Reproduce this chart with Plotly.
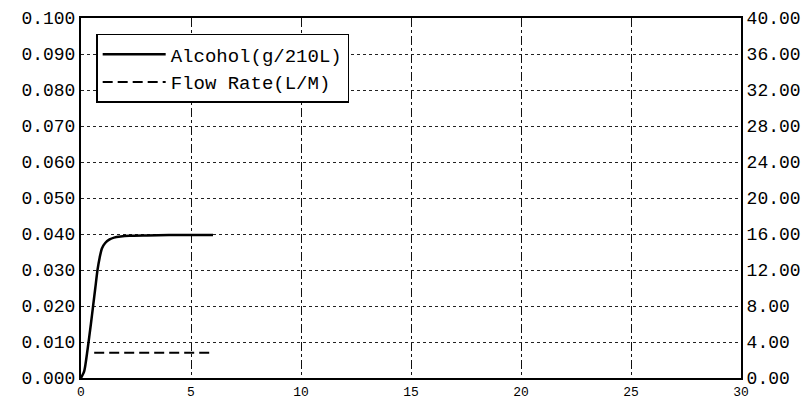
import plotly.graph_objects as go

# ---- data ----
time_alcohol = [0.0, 0.15, 0.3, 0.45, 0.55, 0.65, 0.75, 0.85, 0.95, 1.1, 1.3, 1.5, 1.8, 2.2, 3.0, 4.0, 5.0, 6.0]
alcohol = [0.0, 0.002, 0.008, 0.015, 0.020, 0.025, 0.030, 0.0335, 0.0360, 0.0375, 0.0385, 0.0390,
           0.0393, 0.0395, 0.0396, 0.0397, 0.0397, 0.0397]
time_flow = [0.6, 6.0]
flow_rate = [2.8, 2.8]

series_names = ["Alcohol(g/210L)", "Flow Rate(L/M)"]
x_ticks = [0, 5, 10, 15, 20, 25, 30]

FONT = "Liberation Mono"

fig = go.Figure()
fig.add_trace(go.Scatter(x=time_alcohol, y=alcohol, mode="lines", name=series_names[0],
                         line=dict(color="black", width=2.5, shape="spline", smoothing=0.6), yaxis="y"))
fig.add_trace(go.Scatter(x=time_flow, y=flow_rate, mode="lines", name=series_names[1],
                         line=dict(color="black", width=2, dash="10px,5px"), yaxis="y2"))

# the page body adds an 8px offset, so the figure is sized to fit 811x400 with it
fig.update_layout(
    width=803, height=392,
    margin=dict(l=73, r=70, t=10, b=22),
    paper_bgcolor="white", plot_bgcolor="white",
    font=dict(family=FONT, size=18, color="black"),
    showlegend=True,
    legend=dict(x=0.023, y=0.956, xanchor="left", yanchor="top",
                bgcolor="white", bordercolor="black", borderwidth=1.5,
                font=dict(family=FONT, size=19, color="black"),
                itemwidth=63, tracegroupgap=0),
    xaxis=dict(range=[0, 30], tickvals=x_ticks, ticktext=[str(v) for v in x_ticks],
               showgrid=True, gridcolor="#111", griddash="dashdot", gridwidth=1.2,
               showline=True, linecolor="black", linewidth=2, mirror=True,
               zeroline=False, ticks="", ticklen=0, automargin=False,
               ticklabelstandoff=0,
               tickfont=dict(family=FONT, size=13)),
    yaxis=dict(range=[0, 0.1], dtick=0.01, tickformat=".3f",
               showgrid=True, gridcolor="#222", griddash="dot", gridwidth=1,
               showline=True, linecolor="black", linewidth=2, mirror=True,
               zeroline=False, ticks="", ticklen=0, automargin=False,
               tickfont=dict(family=FONT, size=18)),
    yaxis2=dict(range=[0, 40], dtick=4, tickformat=".2f", overlaying="y", side="right",
                showgrid=False, showline=True, linecolor="black", linewidth=2,
                zeroline=False, ticks="", ticklen=0, automargin=False,
                tickfont=dict(family=FONT, size=18)),
)

fig.write_html("out.html")
